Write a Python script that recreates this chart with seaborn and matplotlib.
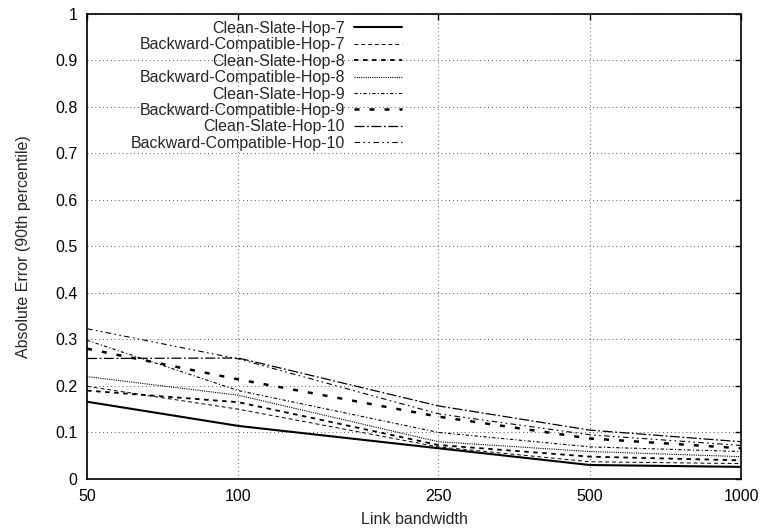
import numpy as np
import pandas as pd
import matplotlib
matplotlib.use('Agg')
import matplotlib.pyplot as plt
import seaborn as sns
from matplotlib.ticker import FixedLocator, NullLocator, FuncFormatter

bandwidth = [50, 100, 250, 500, 1000]
series_names = ['Clean-Slate-Hop-7', 'Backward-Compatible-Hop-7',
                'Clean-Slate-Hop-8', 'Backward-Compatible-Hop-8',
                'Clean-Slate-Hop-9', 'Backward-Compatible-Hop-9',
                'Clean-Slate-Hop-10', 'Backward-Compatible-Hop-10']

cs_hop7 = [0.166, 0.114, 0.066, 0.030, 0.026]
bc_hop7 = [0.199, 0.150, 0.069, 0.037, 0.033]
cs_hop8 = [0.190, 0.165, 0.073, 0.048, 0.040]
bc_hop8 = [0.220, 0.180, 0.080, 0.059, 0.048]
cs_hop9 = [0.298, 0.190, 0.100, 0.069, 0.059]
bc_hop9 = [0.280, 0.214, 0.134, 0.087, 0.066]
cs_hop10 = [0.259, 0.260, 0.157, 0.105, 0.080]
bc_hop10 = [0.323, 0.258, 0.140, 0.095, 0.072]

values = [cs_hop7, bc_hop7, cs_hop8, bc_hop8, cs_hop9, bc_hop9, cs_hop10, bc_hop10]

rows = []
for name, vals in zip(series_names, values):
    for b, v in zip(bandwidth, vals):
        rows.append({'series': name, 'bw': b, 'err': v})
df = pd.DataFrame(rows)

# gnuplot-ish monochrome line types
styles = {
    'Clean-Slate-Hop-7': ('-', 1.5),
    'Backward-Compatible-Hop-7': ((0, (4, 3)), 0.7),
    'Clean-Slate-Hop-8': ((0, (2.5, 2.5)), 1.3),
    'Backward-Compatible-Hop-8': ((0, (1, 1)), 0.8),
    'Clean-Slate-Hop-9': ((0, (3, 2, 1, 2)), 0.8),
    'Backward-Compatible-Hop-9': ((0, (2, 4)), 1.8),
    'Clean-Slate-Hop-10': ((0, (8, 2, 1.5, 2)), 0.9),
    'Backward-Compatible-Hop-10': ((0, (5, 3, 1.5, 3, 1.5, 3)), 0.8),
}

sns.set_style('white')
plt.rcParams['font.family'] = ['Liberation Sans', 'DejaVu Sans']
fs = 11.5

fig = plt.figure(figsize=(7.64, 5.31), dpi=100)
ax = fig.add_axes([0.114, 0.098, 0.856, 0.876])

for name in series_names:
    ls, lw = styles[name]
    sns.lineplot(data=df[df['series'] == name], x='bw', y='err', color='black',
                 linestyle=ls, linewidth=lw, label=name, ax=ax)

ax.set_xscale('log')
ax.set_xlim(50, 1000)
ax.set_ylim(0, 1)
ax.xaxis.set_major_locator(FixedLocator(bandwidth))
ax.xaxis.set_minor_locator(NullLocator())
ax.xaxis.set_major_formatter(FuncFormatter(lambda v, p: '%d' % v))
ax.set_yticks(np.arange(0, 1.01, 0.1))
ax.yaxis.set_major_formatter(FuncFormatter(lambda v, p: '%g' % round(v, 1)))

ax.grid(True, color='0.35', linestyle=(0, (1, 3)), linewidth=0.7)
ax.tick_params(direction='in', length=4, width=1, top=True, right=True,
               labelsize=fs, colors='black', pad=7)
for sp in ax.spines.values():
    sp.set_color('black')
    sp.set_linewidth(1.2)

ax.set_xlabel('Link bandwidth', fontsize=fs, labelpad=6)
ax.set_ylabel('Absolute Error (90th percentile)', fontsize=fs, labelpad=17)

ax.legend(loc='upper right', bbox_to_anchor=(0.482, 0.985), frameon=False,
          markerfirst=False, fontsize=fs, handlelength=3.0, handletextpad=0.6,
          labelspacing=0.09, borderpad=0, borderaxespad=0)

plt.savefig('out.png', dpi=100)
